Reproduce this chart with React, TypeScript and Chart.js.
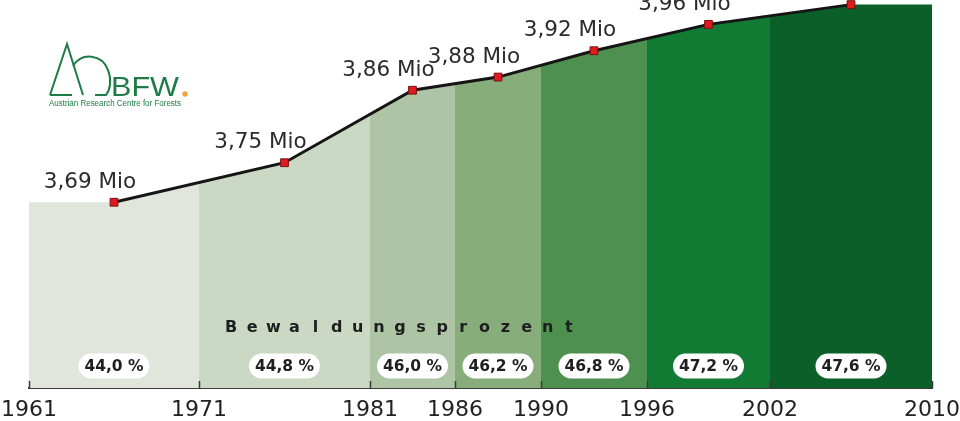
import React, { useEffect, useRef } from 'react';
import { Chart, registerables, LinearScale } from 'chart.js';

// ---------- data ----------
const periodBounds = [1961, 1971, 1981, 1986, 1990, 1996, 2002, 2010];
const tickYears = [1961, 1971, 1981, 1986, 1990, 1996, 2002, 2010];
const surveyYears = [1966, 1976, 1983.5, 1988, 1993, 1999, 2006];
const forestAreaMio = [3.69, 3.75, 3.86, 3.88, 3.92, 3.96, 3.99];
const forestPercent = [44.0, 44.8, 46.0, 46.2, 46.8, 47.2, 47.6];
const axisCaption = 'Bewaldungsprozent';

// ---------- style / layout ----------
const bandColors = ['#e0e6dc', '#cad8c4', '#adc4a5', '#86ad7a', '#4e904f', '#117a33', '#0b602a'];
const segmentWeights = [170, 171, 85, 86, 106, 123, 162];
const FONT = '"DejaVu Sans", Verdana, sans-serif';

class PiecewiseScale extends LinearScale {
  static id = 'piecewise';
  getPixelForValue(value: number) {
    if (value === null || value === undefined || isNaN(value)) return NaN;
    const b = periodBounds;
    const w = segmentWeights;
    const total = w.reduce((a, c) => a + c, 0);
    let acc = 0;
    for (let i = 0; i < w.length; i++) {
      if (value <= b[i + 1] || i === w.length - 1) {
        const t = (value - b[i]) / (b[i + 1] - b[i]);
        return this.getPixelForDecimal((acc + t * w[i]) / total);
      }
      acc += w[i];
    }
    return NaN;
  }
  getValueForPixel(pixel: number) {
    const b = periodBounds;
    const w = segmentWeights;
    const total = w.reduce((a, c) => a + c, 0);
    const d = this.getDecimalForPixel(pixel) * total;
    let acc = 0;
    for (let i = 0; i < w.length; i++) {
      if (d <= acc + w[i] || i === w.length - 1) {
        return b[i] + ((d - acc) / w[i]) * (b[i + 1] - b[i]);
      }
      acc += w[i];
    }
    return b[b.length - 1];
  }
}

Chart.register(...registerables, PiecewiseScale);

function fmt(v: number, digits: number) {
  return v.toFixed(digits).replace('.', ',');
}

function roundRect(ctx: CanvasRenderingContext2D, x: number, y: number, w: number, h: number, r: number) {
  ctx.beginPath();
  ctx.moveTo(x + r, y);
  ctx.lineTo(x + w - r, y);
  ctx.arc(x + w - r, y + r, r, -Math.PI / 2, Math.PI / 2);
  ctx.lineTo(x + r, y + h);
  ctx.arc(x + r, y + r, r, Math.PI / 2, (3 * Math.PI) / 2);
  ctx.closePath();
}

const overlayPlugin = {
  id: 'overlay',
  afterDraw(chart: any) {
    const { ctx, chartArea, scales } = chart;
    const xs = scales.x;
    const ys = scales.y;
    ctx.save();

    // axis tick marks (pointing up into the area)
    ctx.strokeStyle = '#3a3a3a';
    ctx.lineWidth = 1.5;
    tickYears.forEach((v) => {
      const px = Math.round(xs.getPixelForValue(v)) + 0.5;
      ctx.beginPath();
      ctx.moveTo(px, chartArea.bottom);
      ctx.lineTo(px, chartArea.bottom - 7);
      ctx.stroke();
    });

    // letter-spaced caption
    ctx.fillStyle = '#1e1e1e';
    ctx.font = `bold 16px ${FONT}`;
    ctx.textAlign = 'center';
    ctx.textBaseline = 'middle';
    const chars = axisCaption.split('');
    const step = 21.1;
    const cx = xs.getPixelForValue(1981) + 30;
    const startX = cx - ((chars.length - 1) * step) / 2;
    chars.forEach((c, i) => ctx.fillText(c, startX + i * step, chartArea.bottom - 60));

    // percentage pills
    ctx.font = `bold 15.5px ${FONT}`;
    surveyYears.forEach((yr, i) => {
      const px = xs.getPixelForValue(yr);
      const label = `${fmt(forestPercent[i], 1)} %`;
      const w = 71;
      const h = 25;
      const py = chartArea.bottom - 22;
      ctx.fillStyle = '#ffffff';
      roundRect(ctx, px - w / 2, py - h / 2, w, h, h / 2);
      ctx.fill();
      ctx.fillStyle = '#1f1f1f';
      ctx.fillText(label, px, py + 1);
    });

    // value labels
    ctx.font = `21.5px ${FONT}`;
    ctx.fillStyle = '#2b2b2b';
    surveyYears.forEach((yr, i) => {
      const px = xs.getPixelForValue(yr);
      const py = ys.getPixelForValue(forestAreaMio[i]);
      ctx.fillText(`${fmt(forestAreaMio[i], 2)} Mio`, px - 24, py - 20);
    });

    ctx.restore();
  },
};

export default function App() {
  const canvasRef = useRef<HTMLCanvasElement | null>(null);

  useEffect(() => {
    document.body.style.margin = '0';
    const canvas = canvasRef.current;
    if (!canvas) return;

    const areaData = [
      { x: periodBounds[0], y: forestAreaMio[0] },
      ...surveyYears.map((x, i) => ({ x, y: forestAreaMio[i] })),
      { x: periodBounds[periodBounds.length - 1], y: forestAreaMio[forestAreaMio.length - 1] },
    ];
    const lineData = surveyYears.map((x, i) => ({ x, y: forestAreaMio[i] }));

    const bandFill = (context: any) => {
      const chart = context.chart;
      const { chartArea } = chart;
      const xs = chart.scales.x;
      if (!chartArea || !xs) return bandColors[0];
      const g = chart.ctx.createLinearGradient(chartArea.left, 0, chartArea.right, 0);
      const span = chartArea.right - chartArea.left;
      for (let i = 0; i < bandColors.length; i++) {
        const a = Math.min(1, Math.max(0, (xs.getPixelForValue(periodBounds[i]) - chartArea.left) / span));
        const b = Math.min(1, Math.max(0, (xs.getPixelForValue(periodBounds[i + 1]) - chartArea.left) / span));
        g.addColorStop(a, bandColors[i]);
        g.addColorStop(b, bandColors[i]);
      }
      return g;
    };

    const chart = new Chart(canvas, {
      type: 'line',
      data: {
        datasets: [
          {
            label: 'Fläche',
            data: lineData,
            borderColor: '#151515',
            borderWidth: 3,
            fill: false,
            tension: 0,
            clip: false,
            pointStyle: 'rect',
            pointRadius: 5.5,
            pointBackgroundColor: '#e01b1f',
            pointBorderColor: '#7a1010',
            pointBorderWidth: 1,
            order: 0,
          },
          {
            label: 'band',
            data: areaData,
            borderWidth: 0,
            pointRadius: 0,
            fill: 'start',
            backgroundColor: bandFill,
            tension: 0,
            order: 1,
          },
        ],
      },
      options: {
        animation: false,
        responsive: true,
        maintainAspectRatio: false,
        layout: { autoPadding: false, padding: { left: 29, right: 28, top: 0, bottom: 0 } },
        plugins: {
          legend: { display: false },
          tooltip: { enabled: false },
          title: { display: false },
        },
        scales: {
          x: {
            type: 'piecewise' as any,
            min: 1961,
            max: 2010,
            z: 1,
            afterBuildTicks: (scale: any) => {
              scale.ticks = tickYears.map((v) => ({ value: v }));
            },
            afterFit: (scale: any) => {
              scale.height = 33;
              scale.paddingLeft = 0;
              scale.paddingRight = 0;
              scale.paddingTop = 0;
              scale.paddingBottom = 0;
            },
            grid: { display: false, drawTicks: false },
            border: { display: true, color: '#3a3a3a', width: 2 },
            ticks: {
              autoSkip: false,
              maxRotation: 0,
              padding: 9,
              color: '#222222',
              font: { family: FONT, size: 22 },
              callback: (v: any) => String(v),
            },
          },
          y: {
            display: false,
            min: 3.408,
            max: 3.997,
          },
        },
      },
      plugins: [overlayPlugin],
    });

    return () => chart.destroy();
  }, []);

  const green = '#1d7b45';
  return (
    <div style={{ position: 'relative', width: 960, height: 421, background: '#ffffff' }}>
      <canvas ref={canvasRef} />
      <svg
        width={960}
        height={421}
        style={{ position: 'absolute', left: 0, top: 0, pointerEvents: 'none' }}
      >
        <path d="M50 95 L67 44 L83 95" stroke={green} strokeWidth={2} fill="none" />
        <path d="M50 95 L72 95" stroke={green} strokeWidth={2} fill="none" />
        <path d="M73 66 C82 52 102 54 108 70 C112 80 110 90 106 95 L95 95" stroke={green} strokeWidth={2} fill="none" />
        <text x={111} y={96} fontSize={28} fontFamily="Liberation Sans, Arial, sans-serif" fill={green} textLength={68} lengthAdjust="spacingAndGlyphs">BFW</text>
        <circle cx={185} cy={94} r={2.7} fill="#f2a33a" />
        <text x={49} y={106} fontSize={8.5} fontFamily="Liberation Sans Narrow, Liberation Sans, Arial, sans-serif" fill={green} textLength={132} lengthAdjust="spacingAndGlyphs">Austrian Research Centre for Forests</text>
      </svg>
    </div>
  );
}
